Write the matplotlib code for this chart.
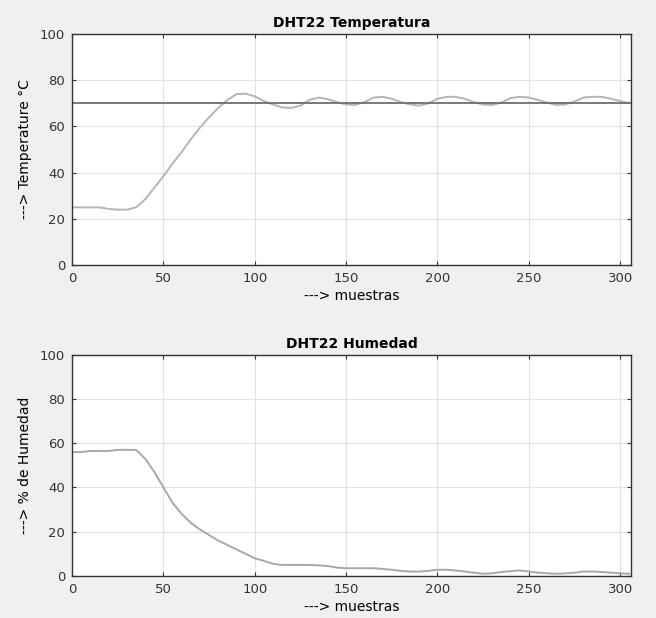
import matplotlib
matplotlib.use('agg')
import matplotlib.pyplot as plt

plt.rcParams['font.family'] = ['DejaVu Sans']

# samples
muestras = list(range(0, 306, 5))
temperatura = [25, 25, 25, 25, 24.3, 24, 24, 25, 28.5, 33.5, 38.5, 44, 49, 54.5, 59.5, 64,
               68, 71.5, 74, 74.2, 73, 71, 69.5, 68.2, 68, 69, 71.5, 72.5, 71.8, 70.5, 69.5,
               69.3, 70.5, 72.5, 72.8, 72, 70.5, 69.5, 69, 70, 72, 72.8, 72.8, 72, 70.5, 69.5,
               69.3, 70.3, 72.3, 72.8, 72.5, 71.5, 70.3, 69.3, 69.5, 70.8, 72.5, 72.8, 72.8,
               72, 71, 70]
humedad = [56, 56, 56.5, 56.5, 56.5, 57, 57, 57, 53, 47, 40, 33, 28, 24, 21, 18.5, 16, 14,
           12, 10, 8, 6.8, 5.5, 5, 5, 5, 5, 4.8, 4.5, 3.8, 3.5, 3.5, 3.5, 3.5, 3.2, 2.8, 2.3,
           2, 2, 2.3, 2.8, 2.8, 2.5, 2, 1.5, 1, 1.2, 1.8, 2.2, 2.5, 2, 1.5, 1.2, 1, 1.2, 1.5,
           2, 2, 1.8, 1.5, 1.2, 1]
setpoint = 70

fig = plt.figure(figsize=(6.56, 6.18), dpi=100, facecolor='#f0f0f0')
ax1 = fig.add_axes([0.110, 0.571, 0.852, 0.374])
ax2 = fig.add_axes([0.110, 0.068, 0.852, 0.358])


def estilo(ax, titulo, ylabel):
    ax.set_xlim(0, 306)
    ax.set_ylim(0, 100)
    ax.set_xticks(range(0, 301, 50))
    ax.set_yticks(range(0, 101, 20))
    ax.grid(True, color='#e2e2e2', linewidth=0.8)
    ax.set_axisbelow(True)
    ax.tick_params(direction='in', top=True, right=True, length=3, labelsize=9.5,
                   colors='#333333', pad=5)
    for s in ax.spines.values():
        s.set_color('#333333')
        s.set_linewidth(1.0)
    ax.set_title(titulo, fontsize=10, fontweight='bold', pad=5)
    ax.set_xlabel('---> muestras', fontsize=10, labelpad=3)
    ax.set_ylabel(ylabel, fontsize=10, labelpad=6)


ax1.plot(muestras, temperatura, color='#b5b5b5', linewidth=1.4)
ax1.axhline(setpoint, color='#6e6e6e', linewidth=1.3)
estilo(ax1, 'DHT22 Temperatura', '---> Temperature °C')

ax2.plot(muestras, humedad, color='#a8a8a8', linewidth=1.4)
estilo(ax2, 'DHT22 Humedad', '---> % de Humedad')

fig.savefig('out.png', dpi=100, facecolor=fig.get_facecolor())
